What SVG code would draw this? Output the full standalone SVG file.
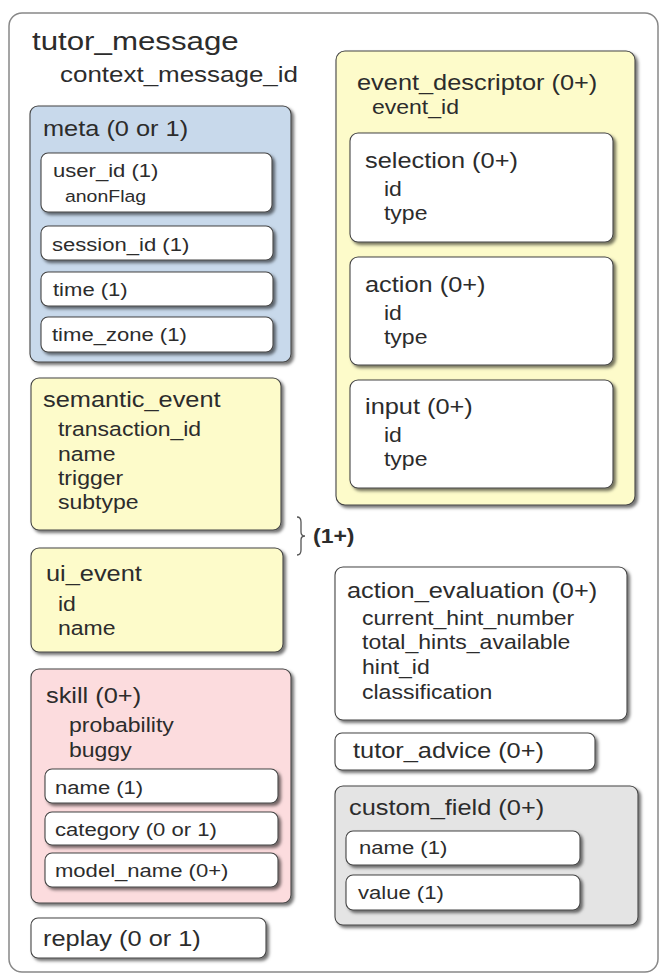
<svg xmlns="http://www.w3.org/2000/svg" width="659" height="980" viewBox="0 0 659 980">
<style>
text { font-family: "Liberation Sans", Arial, Helvetica, sans-serif; fill: #2c2c2c; transform-box: fill-box; transform-origin: 0 0; transform: scaleX(1.18); }
.t0 { font-size: 26.5px; }
.t1 { font-size: 22px; }
.h { font-size: 21.5px; }
.i { font-size: 19.5px; }
.f { font-size: 18.7px; }
.s { font-size: 16.5px; }
.b { font-size: 19.5px; font-weight: bold; }
.box { stroke: #454545; stroke-width: 1.1; filter: url(#sh); }
.blue { fill: #c8d9eb; }
.yel { fill: #fdfbca; }
.pink { fill: #fcdcde; }
.gray { fill: #e4e4e4; }
.wh { fill: #ffffff; }
</style>
<defs>
<filter id="sh" x="-10%" y="-10%" width="125%" height="130%">
<feDropShadow dx="2.5" dy="2.5" stdDeviation="1.4" flood-color="#000" flood-opacity="0.55"/>
</filter>
</defs>
<rect width="659" height="980" fill="#ffffff"/>
<g id="tutor_message">
<rect x="9" y="13" width="649" height="959" rx="13" fill="#ffffff" stroke="#888" stroke-width="1.5"/>
<text class="t0" x="32" y="50">tutor_message</text>
<text class="t1" x="60" y="82">context_message_id</text>
</g>
<g id="meta">
<rect class="box blue" x="30" y="106" width="261" height="256" rx="8"/>
<text class="h" x="43" y="136">meta (0 or 1)</text>
</g>
<g id="user_id">
<rect class="box wh" x="41" y="153" width="231" height="59" rx="7"/>
<text class="f" x="53" y="177">user_id (1)</text>
<text class="s" x="65" y="202">anonFlag</text>
</g>
<g id="session_id">
<rect class="box wh" x="41" y="226" width="232" height="34" rx="7"/>
<text class="f" x="52" y="251">session_id (1)</text>
</g>
<g id="time">
<rect class="box wh" x="41" y="272" width="232" height="34" rx="7"/>
<text class="f" x="53" y="296">time (1)</text>
</g>
<g id="time_zone">
<rect class="box wh" x="41" y="317" width="232" height="35" rx="7"/>
<text class="f" x="52" y="341">time_zone (1)</text>
</g>
<g id="semantic_event">
<rect class="box yel" x="31" y="378" width="250" height="152" rx="8"/>
<text class="h" x="43" y="407">semantic_event</text>
<text class="i" x="58" y="436">transaction_id</text>
<text class="i" x="58" y="461">name</text>
<text class="i" x="58" y="485">trigger</text>
<text class="i" x="58" y="509">subtype</text>
</g>
<g id="ui_event">
<rect class="box yel" x="31" y="548" width="252" height="104" rx="8"/>
<text class="h" x="46" y="581">ui_event</text>
<text class="i" x="58" y="611">id</text>
<text class="i" x="58" y="635">name</text>
</g>
<g id="connectors">
<path d="M297,517 Q301,517 301,522 L301,532 Q301,536 305,536 Q301,536 301,540 L301,550 Q301,555 297,555" fill="none" stroke="#555" stroke-width="1.3"/>
<text class="b" x="313" y="543">(1+)</text>
</g>
<g id="skill">
<rect class="box pink" x="31" y="669" width="260" height="234" rx="8"/>
<text class="h" x="46" y="703">skill (0+)</text>
<text class="i" x="69" y="732">probability</text>
<text class="i" x="69" y="757">buggy</text>
</g>
<g id="skill_name">
<rect class="box wh" x="45" y="769" width="233" height="34" rx="7"/>
<text class="f" x="55" y="794">name (1)</text>
</g>
<g id="category">
<rect class="box wh" x="45" y="812" width="233" height="33" rx="7"/>
<text class="f" x="55" y="836">category (0 or 1)</text>
</g>
<g id="model_name">
<rect class="box wh" x="45" y="853" width="233" height="34" rx="7"/>
<text class="f" x="55" y="877">model_name (0+)</text>
</g>
<g id="replay">
<rect class="box wh" x="31" y="918" width="235" height="40" rx="7"/>
<text class="h" x="43" y="946">replay (0 or 1)</text>
</g>
<g id="event_descriptor">
<rect class="box yel" x="336" y="51" width="299" height="454" rx="9"/>
<text class="h" x="357" y="90">event_descriptor (0+)</text>
<text class="i" x="372" y="114">event_id</text>
</g>
<g id="selection">
<rect class="box wh" x="350" y="133" width="263" height="109" rx="8"/>
<text class="h" x="365" y="168">selection (0+)</text>
<text class="i" x="384" y="196">id</text>
<text class="i" x="384" y="220">type</text>
</g>
<g id="action">
<rect class="box wh" x="350" y="257" width="263" height="108" rx="8"/>
<text class="h" x="365" y="292">action (0+)</text>
<text class="i" x="384" y="320">id</text>
<text class="i" x="384" y="344">type</text>
</g>
<g id="input">
<rect class="box wh" x="350" y="380" width="263" height="108" rx="8"/>
<text class="h" x="365" y="414">input (0+)</text>
<text class="i" x="384" y="442">id</text>
<text class="i" x="384" y="466">type</text>
</g>
<g id="action_evaluation">
<rect class="box wh" x="335" y="567" width="292" height="153" rx="8"/>
<text class="h" x="347" y="598">action_evaluation (0+)</text>
<text class="i" x="362" y="625">current_hint_number</text>
<text class="i" x="362" y="649">total_hints_available</text>
<text class="i" x="362" y="674">hint_id</text>
<text class="i" x="362" y="699">classification</text>
</g>
<g id="tutor_advice">
<rect class="box wh" x="335" y="733" width="260" height="37" rx="7"/>
<text class="h" x="353" y="758">tutor_advice (0+)</text>
</g>
<g id="custom_field">
<rect class="box gray" x="335" y="786" width="303" height="139" rx="8"/>
<text class="h" x="349" y="815">custom_field (0+)</text>
</g>
<g id="custom_name">
<rect class="box wh" x="346" y="831" width="234" height="34" rx="7"/>
<text class="f" x="359" y="854">name (1)</text>
</g>
<g id="custom_value">
<rect class="box wh" x="346" y="875" width="234" height="35" rx="7"/>
<text class="f" x="358" y="899">value (1)</text>
</g>
</svg>
